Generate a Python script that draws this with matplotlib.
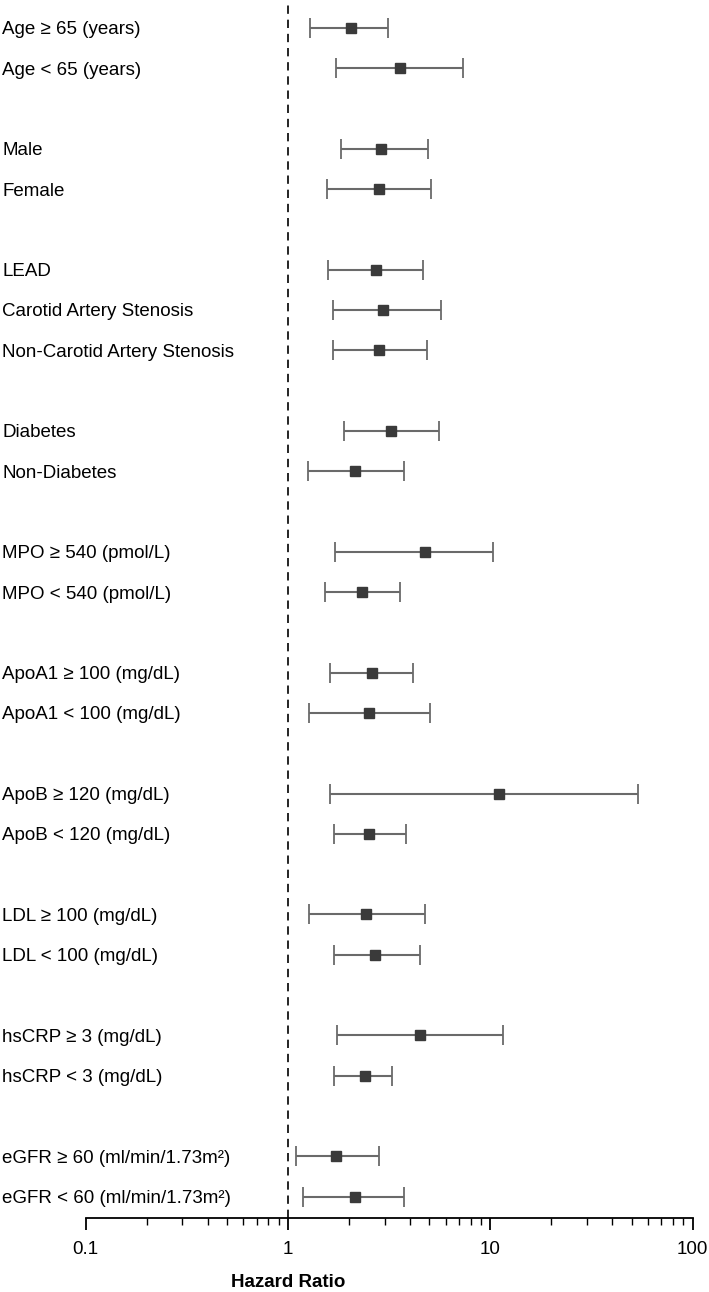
import numpy as np
import matplotlib
matplotlib.use("Agg")
import matplotlib.pyplot as plt
from matplotlib.ticker import LogLocator, NullFormatter, FixedLocator, FixedFormatter

# === Data ===
labels = [
    "Age \u2265 65 (years)", "Age < 65 (years)",
    "Male", "Female",
    "LEAD", "Carotid Artery Stenosis", "Non-Carotid Artery Stenosis",
    "Diabetes", "Non-Diabetes",
    "MPO \u2265 540 (pmol/L)", "MPO < 540 (pmol/L)",
    "ApoA1 \u2265 100 (mg/dL)", "ApoA1 < 100 (mg/dL)",
    "ApoB \u2265 120 (mg/dL)", "ApoB < 120 (mg/dL)",
    "LDL \u2265 100 (mg/dL)", "LDL < 100 (mg/dL)",
    "hsCRP \u2265 3 (mg/dL)", "hsCRP < 3 (mg/dL)",
    "eGFR \u2265 60 (ml/min/1.73m\u00b2)", "eGFR < 60 (ml/min/1.73m\u00b2)",
]
group_sizes = [2, 2, 3, 2, 2, 2, 2, 2, 2, 2]
hr = [2.04, 3.56, 2.87, 2.81, 2.71, 2.94, 2.81, 3.23, 2.15, 4.73, 2.33,
      2.60, 2.52, 10.97, 2.51, 2.43, 2.68, 4.49, 2.39, 1.73, 2.13]
ci_low = [1.28, 1.73, 1.82, 1.55, 1.58, 1.67, 1.67, 1.88, 1.26, 1.70, 1.53,
          1.62, 1.27, 1.62, 1.68, 1.27, 1.68, 1.75, 1.68, 1.09, 1.19]
ci_high = [3.13, 7.34, 4.90, 5.09, 4.66, 5.67, 4.88, 5.55, 3.75, 10.26, 3.56,
           4.14, 5.01, 53.5, 3.81, 4.73, 4.49, 11.5, 3.28, 2.82, 3.75]
xticks = [0.1, 1, 10, 100]
xtick_labels = ["0.1", "1", "10", "100"]

# row positions: one blank row between groups
ypos = []
r = 0
for g in group_sizes:
    for i in range(g):
        ypos.append(r)
        r += 1
    r += 1
ypos = np.array(ypos)

hr = np.array(hr)
lo = np.array(ci_low)
hi = np.array(ci_high)

plt.rcParams['font.family'] = ['Liberation Sans', 'DejaVu Sans']

fig = plt.figure(figsize=(7.09, 12.92), dpi=100)
ax = fig.add_axes([0.121, 0.0573, 0.856, 0.9427])

ax.errorbar(hr, ypos, xerr=[hr - lo, hi - hr], fmt='s', color='#3a3a3a',
            ecolor='#6a6a6a', elinewidth=1.5, capsize=7, capthick=1.3,
            markersize=7.5, zorder=3)
ax.axvline(1, color='black', linestyle=(0, (5, 3.5)), linewidth=1.2, zorder=1)

ax.set_xscale('log')
ax.set_xlim(0.1, 100)
ax.set_ylim(ypos[-1] + 0.53, -0.69)

ax.xaxis.set_major_locator(FixedLocator(xticks))
ax.xaxis.set_major_formatter(FixedFormatter(xtick_labels))
ax.xaxis.set_minor_locator(LogLocator(base=10, subs=np.arange(2, 10)))
ax.xaxis.set_minor_formatter(NullFormatter())
ax.tick_params(axis='x', which='major', length=8.6, width=1.3, labelsize=13.5, pad=8)
ax.tick_params(axis='x', which='minor', length=5, width=1.0)

ax.set_yticks(ypos)
ax.set_yticklabels(labels, ha='left', fontsize=13.5)
ax.tick_params(axis='y', length=0, pad=60)

for s in ['top', 'right', 'left']:
    ax.spines[s].set_visible(False)
ax.spines['bottom'].set_linewidth(1.3)

ax.set_xlabel("Hazard Ratio", fontsize=13.5, fontweight='bold')
ax.xaxis.set_label_coords(0.333, -0.046)

fig.savefig("out.png", dpi=100)
